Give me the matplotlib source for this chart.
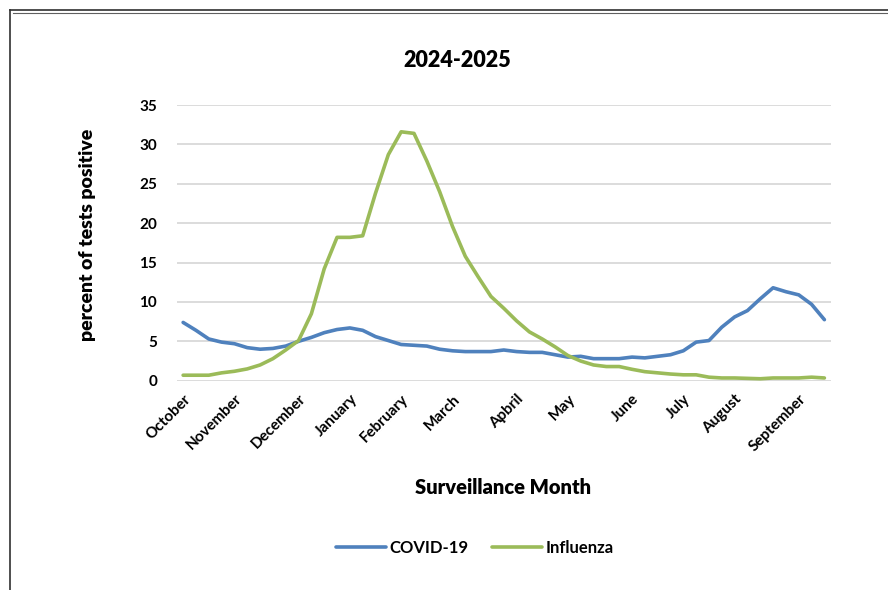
import matplotlib
matplotlib.use('Agg')

from matplotlib import pyplot as plt
from matplotlib.lines import Line2D

plt.rcParams['font.family'] = ['Lato', 'DejaVu Sans']
plt.rcParams['font.weight'] = 'bold'

# weekly percent positive, surveillance weeks Oct 2024 - Sep 2025
covid = [7.4, 6.4, 5.3, 4.9, 4.7, 4.2, 4.0, 4.1, 4.4, 5.0,
         5.5, 6.1, 6.5, 6.7, 6.4, 5.6, 5.1, 4.6, 4.5, 4.4,
         4.0, 3.8, 3.7, 3.7, 3.7, 3.9, 3.7, 3.6, 3.6, 3.3,
         3.0, 3.1, 2.8, 2.8, 2.8, 3.0, 2.9, 3.1, 3.3, 3.8,
         4.9, 5.1, 6.8, 8.1, 8.9, 10.4, 11.8, 11.3, 10.9, 9.7,
         7.75]
influenza = [0.7, 0.7, 0.7, 1.0, 1.2, 1.5, 2.0, 2.8, 3.9, 5.1,
             8.5, 14.2, 18.2, 18.2, 18.4, 23.8, 28.7, 31.6, 31.4, 27.9,
             24.0, 19.6, 15.8, 13.2, 10.7, 9.2, 7.6, 6.2, 5.3, 4.3,
             3.2, 2.5, 2.0, 1.8, 1.8, 1.45, 1.15, 1.0, 0.85, 0.75,
             0.75, 0.45, 0.35, 0.35, 0.3, 0.25, 0.35, 0.35, 0.35, 0.45,
             0.35]
month_labels = ['October', 'November', 'December', 'January', 'February', 'March',
                'Apbril', 'May', 'June', 'July', 'August', 'September']
month_weeks = [0, 4, 9, 13, 17, 21, 26, 30, 35, 39, 43, 48]

fig = plt.figure(figsize=(8.88, 5.90), dpi=100)
ax = fig.add_axes([0.199, 0.3547, 0.7366, 0.4673])

weeks = list(range(len(covid)))
ax.plot(weeks, covid, color='#4F81BD', lw=2.6, label='COVID-19', solid_capstyle='round')
ax.plot(weeks, influenza, color='#9BBB59', lw=2.6, label='Influenza', solid_capstyle='round')

ax.set_xlim(-0.5, len(covid) - 0.5)
ax.set_ylim(0, 35)
ax.set_yticks(range(0, 36, 5))
ax.yaxis.grid(True, color='#d9d9d9', lw=1.3)
ax.set_axisbelow(True)
for side in ['top', 'right', 'left', 'bottom']:
    ax.spines[side].set_visible(False)
ax.tick_params(axis='both', length=0, labelsize=11)
ax.tick_params(axis='y', pad=14)

ax.set_xticks(month_weeks)
ax.set_xticklabels(month_labels, rotation=45, ha='right', va='top',
                   rotation_mode='anchor', fontweight='bold')
ax.tick_params(axis='x', pad=8)

fig.text(0.515, 0.898, '2024-2025', ha='center', va='center', fontsize=15.5, fontweight='heavy')
fig.text(0.099, 0.602, 'percent of tests positive', ha='center', va='center',
         rotation=90, fontsize=14, fontweight='heavy')
fig.text(0.566, 0.173, 'Surveillance Month', ha='center', va='center', fontsize=14.5,
         fontweight='heavy')

fig.legend(loc='center', bbox_to_anchor=(0.535, 0.071), ncol=2, frameon=False,
           fontsize=12, handlelength=3.0, columnspacing=1.4, handletextpad=0.2)

# chart border (top and left edges)
fig.add_artist(Line2D([10 / 888, 1.0], [1 - 10 / 590, 1 - 10 / 590], color='#303030', lw=1.2))
fig.add_artist(Line2D([10 / 888, 10 / 888], [0.0, 1 - 10 / 590], color='#303030', lw=1.2))
fig.add_artist(Line2D([12.5 / 888, 1.0], [1 - 12.5 / 590, 1 - 12.5 / 590], color='#606060', lw=0.8))

fig.savefig('out.png', dpi=100)
